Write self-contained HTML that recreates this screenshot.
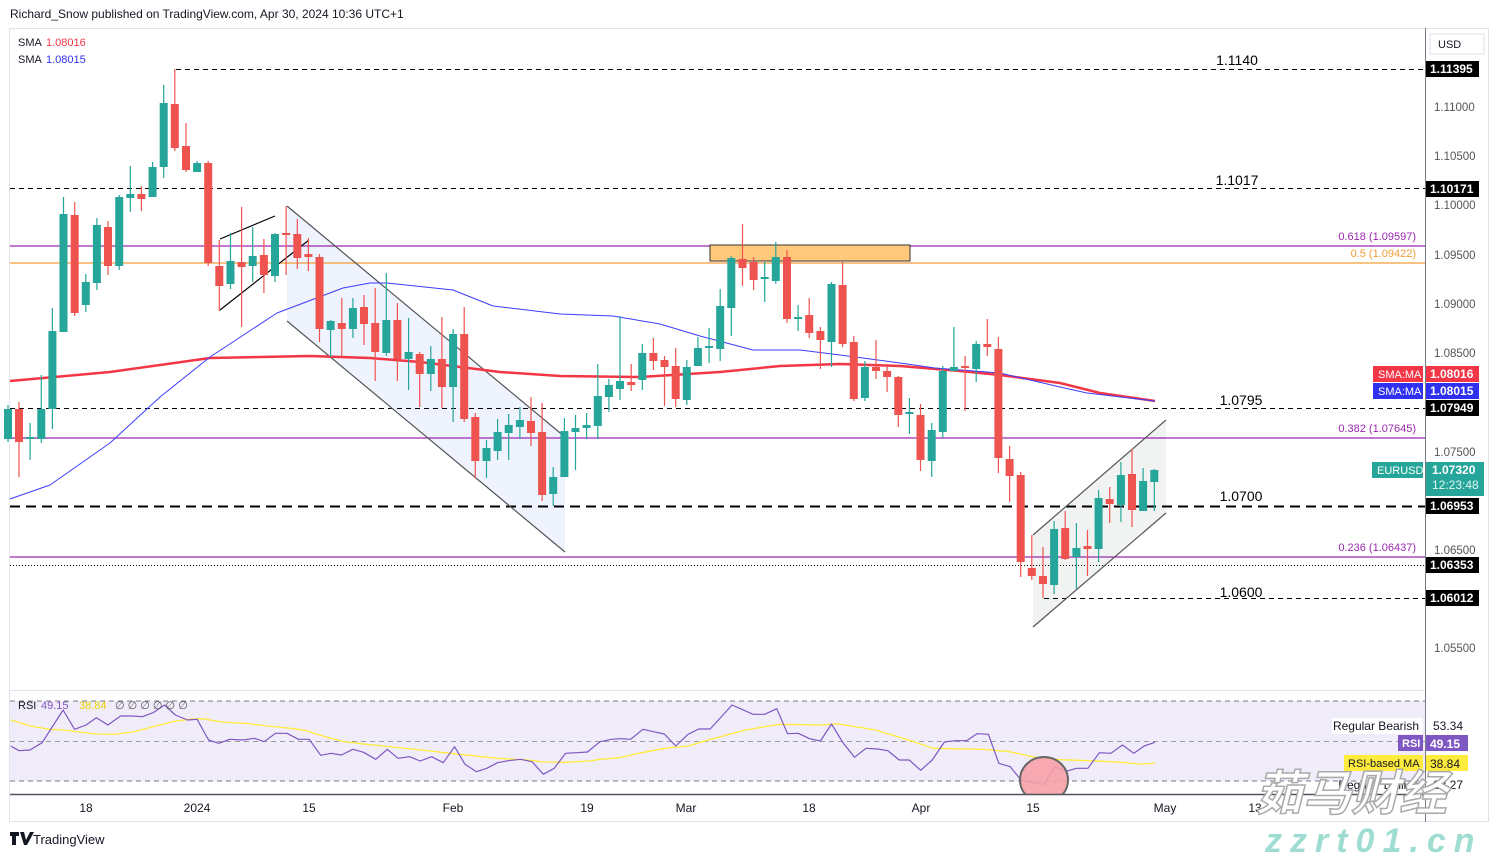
<!DOCTYPE html>
<html><head><meta charset="utf-8"><style>
html,body{margin:0;padding:0;background:#fff;width:1499px;height:857px;overflow:hidden}
svg{display:block;font-family:"Liberation Sans",sans-serif}
</style></head><body>
<svg id="s" width="1499" height="857" xmlns="http://www.w3.org/2000/svg">
<rect x="0" y="0" width="1499" height="857" fill="#fff"/>
<rect x="9.5" y="28.5" width="1479" height="793" fill="#fff" stroke="#e0e3eb"/>
<text x="10" y="18" font-size="12" fill="#131722">Richard_Snow published on TradingView.com, Apr 30, 2024 10:36 UTC+1</text>
<g id="g"></g>
</svg>
<script>
var g=document.getElementById('g'),h='';
function L(x1,y1,x2,y2,c,w,d){h+='<line x1="'+x1+'" y1="'+y1+'" x2="'+x2+'" y2="'+y2+'" stroke="'+c+'" stroke-width="'+(w||1)+'"'+(d?' stroke-dasharray="'+d+'"':'')+'/>';}
function T(x,y,t,c,s,a,wt){h+='<text x="'+x+'" y="'+y+'" font-size="'+(s||12)+'" fill="'+c+'"'+(a?' text-anchor="'+a+'"':'')+(wt?' font-weight="bold"':'')+'>'+t+'</text>';}
function R(x,y,w,hh,c,st){h+='<rect x="'+x+'" y="'+y+'" width="'+w+'" height="'+hh+'" fill="'+c+'"'+(st?' stroke="'+st+'"':'')+'/>';}
function P(pts,c,w,f){h+='<polyline points="'+pts.map(function(p){return p.join(',')}).join(' ')+'" fill="'+(f||'none')+'" stroke="'+c+'" stroke-width="'+(w||1)+'" stroke-linejoin="round"/>';}
// shapes
h+='<polygon points="287,206 565,437 565,552 287,321" fill="#eef3fd"/>';
h+='<polygon points="1033,535 1166,420 1166,513 1033,627" fill="#f1f2f2"/>';
// horizontal levels
L(176,69.5,1425,69.5,'#000',1,'5,4');
L(10,188.5,1425,188.5,'#000',1,'5,4');
L(10,246,1425,246,'#9c27b0',1.3);
L(10,263,1425,263,'#f29d38',1.3);
L(10,408.5,1425,408.5,'#000',1,'5,4');
L(10,438,1425,438,'#9c27b0',1.3);
L(10,506.5,1425,506.5,'#000',2,'10,6');
L(10,557,1425,557,'#9c27b0',1.3);
L(10,565.5,1425,565.5,'#000',1,'1,2');
L(1044,598.5,1425,598.5,'#000',1,'5,4');
R(710,245,200,16,'#ffc87a','#333');
// labels
T(1237,65,'1.1140','#000',14,'middle');T(1237,185,'1.1017','#000',14,'middle');
T(1241,405,'1.0795','#000',14,'middle');T(1241,501,'1.0700','#000',14,'middle');
T(1241,597,'1.0600','#000',14,'middle');
T(1416,240,'0.618 (1.09597)','#9c27b0',11,'end');T(1416,257,'0.5 (1.09422)','#f29d38',11,'end');
T(1416,432,'0.382 (1.07645)','#9c27b0',11,'end');T(1416,551,'0.236 (1.06437)','#9c27b0',11,'end');
// channel lines
L(287,206,565,437,'#555',1.2);L(287,321,565,552,'#555',1.2);
L(1033,535,1166,420,'#555',1.2);L(1033,627,1166,513,'#555',1.2);
L(220,239,275,216,'#000',1.2);L(220,310,309,240,'#000',1.2);
// SMAs
P([[10,381],[110,372],[210,358],[310,356],[370,358],[420,362],[500,372],[560,376],[640,377],[720,372],[780,366],[840,364],[900,366],[960,371],[1000,375],[1060,383],[1100,393],[1155,401]],'#f23645',2.5);
P([[10,499],[50,485],[110,443],[160,397],[210,357],[277,313],[343,288],[370,283],[387,283],[453,290],[493,306],[560,314],[613,316],[660,324],[700,336],[753,350],[800,350],[840,355],[900,363],[935,368],[1000,373],[1060,387],[1087,393],[1155,401]],'#3c3cff',1);
// candles
var C=[[439,409,405,442],[409,442,402,477],[439,438,423,460],[439,409,375,443],[409,331,308,429],[332,214,197,332],[215,313,202,316],[305,282,274,312],[283,225,218,290],[227,266,221,275],[266,197,195,270],[198,194,166,212],[194,199,186,211],[197,167,162,197],[167,103,85,178],[104,148,69,151],[146,170,123,172],[172,163,161,172],[163,263,161,266],[266,286,240,311],[284,261,233,289],[262,267,207,327],[266,256,227,282],[255,275,239,293],[276,234,233,282],[234,235,206,275],[234,258,219,269],[254,257,238,271],[257,329,254,342],[330,321,320,357],[323,329,298,357],[329,308,298,338],[307,324,295,345],
[323,352,288,381],[353,320,273,356],[320,359,303,381],[359,352,318,390],[354,374,352,407],[374,359,346,391],[359,387,317,408],[387,334,329,422],[334,419,307,422],[417,461,413,478],[461,448,440,478],[451,432,419,460],[433,425,414,460],[427,420,407,439],[421,433,397,446],[432,495,403,501],[494,477,467,506],[477,431,418,477],[432,428,415,470],[428,425,413,439],[426,396,364,439],[397,385,379,412],[389,381,316,400],[382,385,364,391],[380,353,344,390],[353,361,338,370],[360,367,356,406],[366,399,348,407],[400,367,360,405],[366,348,337,366],[348,347,328,363],
[349,306,289,361],[308,258,256,336],[259,268,224,286],[262,280,257,290],[279,278,262,302],[281,257,242,284],[257,319,250,323],[319,317,305,331],[315,333,298,338],[331,340,327,369],[342,284,282,367],[285,344,262,347],[342,399,336,401],[398,367,361,401],[367,371,340,379],[371,377,364,392],[377,415,376,427],[414,413,398,434],[415,460,404,471],[461,430,423,477],[432,371,366,438],[371,367,327,371],[367,368,356,411],[369,344,341,382],[344,347,319,356],[349,458,337,473],[459,476,446,502],[475,562,472,577],[568,576,535,580],[576,584,547,598],[585,529,521,594],[528,559,511,560],[557,548,523,589],[546,549,530,576],[549,498,490,562],[499,504,487,523],[505,475,462,522],[474,510,449,527],[511,481,468,511],[482,470,469,511]];
for(var i=0;i<C.length;i++){var c=C[i],x=(i==0?8:19+11.13*(i-1)),up=c[1]<=c[0],col=up?'#26a69a':'#ef5350';
L(x.toFixed(1),c[2],x.toFixed(1),c[3],col,1.2);var t=Math.min(c[0],c[1]),b=Math.max(c[0],c[1]);if(b-t<2){t-=1;b=t+2}R((x-4).toFixed(1),t,8,b-t,col);}
// price axis
L(1425.5,28,1425.5,822,'#787b86',1);
[[107,'1.11000'],[156,'1.10500'],[205,'1.10000'],[255,'1.09500'],[304,'1.09000'],[353,'1.08500'],[452,'1.07500'],[550,'1.06500'],[648,'1.05500']].forEach(function(a){T(1434,a[0]+4,a[1],'#555',11.5)});
R(1430,34,54,20,'#fff','#e0e3eb');T(1438,48,'USD','#131722',11);
function tag(y,t,bg){R(1426,y-8,53,16,bg);T(1430,y+4,t,'#fff',12,null,1)}
tag(69,'1.11395','#000');tag(189,'1.10171','#000');tag(374,'1.08016','#f23645');tag(391,'1.08015','#3030f0');tag(408,'1.07949','#000');tag(506,'1.06953','#000');tag(565,'1.06353','#000');tag(598,'1.06012','#000');
R(1373,366,50,16,'#f23645');T(1378,378,'SMA:MA','#fff',11);R(1373,383,50,16,'#3030f0');T(1378,395,'SMA:MA','#fff',11);
R(1372,462,51,16,'#26a69a');T(1377,474,'EURUSD','#fff',11);R(1426,462,58,34,'#26a69a');T(1432,474,'1.07320','#fff',12,null,1);T(1432,489,'12:23:48','#e0f5f2',12);
// legends
T(18,46,'SMA','#131722',11);T(46,46,'1.08016','#f23645',11);T(18,63,'SMA','#131722',11);T(46,63,'1.08015','#3030f0',11);
// RSI pane
L(10,690.5,1425,690.5,'#e0e3eb',1);
R(10,701,1415,80,'#f1ecf9');
L(10,701,1425,701,'#787b86',1,'5,4');L(10,741.5,1425,741.5,'#9a9aa2',1,'5,4');L(10,781,1425,781,'#787b86',1,'5,4');
var ky=function(a,ox){return a.map(function(p){return[(ox+p[0]/2.613).toFixed(1),(690+p[1]/3).toFixed(1)]})};
P(ky([[28,90],[80,108],[130,118],[165,120],[250,132],[300,133],[350,125],[400,110],[450,95],[500,87],[530,86],[580,96],[640,100],[700,108],[760,115],[800,122],[850,140],[900,155],[950,162],[1000,168],[1100,180],[1200,193],[1300,205],[1380,210],[1420,216],[1480,217],[1540,213],[1568,208]],0).concat(ky([[50,203],[100,190],[170,175],[230,168],[300,145],[380,120],[470,103],[580,105],[620,101],[720,120],[800,148],[870,175],[1000,178],[1070,185],[1150,205],[1200,209],[1280,212],[1360,217],[1410,222],[1450,220]],600)),'#ffeb3b',1.3);
P(ky([[28,168],[50,182],[78,180],[110,158],[165,60],[195,118],[225,105],[252,83],[282,105],[315,78],[345,78],[372,80],[400,68],[430,45],[458,75],[490,90],[515,88],[545,150],[572,160],[600,148],[635,150],[665,145],[690,155],[720,130],[750,130],[780,148],[808,148],[838,196],[865,190],[892,195],[922,178],[950,187],[982,208],[1012,178],[1040,205],[1070,200],[1098,213],[1128,200],[1158,218],[1188,170],[1215,223],[1245,245],[1272,235],[1300,218],[1328,212],[1360,208],[1390,215],[1420,253],[1448,235],[1478,190],[1508,188],[1535,186],[1568,155]],0).concat(ky([[30,148],[55,146],[80,148],[112,118],[140,125],[168,132],[198,168],[230,133],[258,117],[288,117],[345,45],[400,73],[430,73],[462,56],[490,131],[518,130],[548,146],[576,153],[605,102],[635,158],[665,202],[695,175],[725,177],[752,182],[782,210],[808,210],[838,241],[868,210],[900,156],[928,152],[958,152],[985,131],[1015,133],[1042,220],[1072,230],[1100,270],[1130,278],[1160,283],[1188,230],[1218,244],[1245,235],[1275,235],[1305,188],[1335,190],[1365,165],[1395,190],[1422,168],[1450,157]],600)),'#7e57c2',1.2);
h+='<clipPath id="cp"><rect x="10" y="690" width="1415" height="104"/></clipPath><ellipse cx="1044" cy="780" rx="24" ry="23" fill="#f7a1a8" fill-opacity="0.9" stroke="#666" stroke-width="2" clip-path="url(#cp)"/>';
L(10,794.5,1425,794.5,'#50535e',1.5);
T(18,709,'RSI','#131722',11);T(41,709,'49.15','#7e57c2',11);T(79,709,'38.84','#e6d200',11);T(115,709,'∅ ∅ ∅ ∅ ∅ ∅','#555',11);
R(1332,718,91,16,'#fff');T(1419,730,'Regular Bearish','#131722',12,'end');T(1433,730,'53.34','#131722',12);
R(1398,735,25,16,'#7e57c2');T(1402,747,'RSI','#fff',11,null,1);R(1426,735,42,16,'#7e57c2');T(1430,748,'49.15','#fff',12,null,1);
R(1344,755,79,16,'#ffeb3b');T(1348,767,'RSI-based MA','#131722',11);R(1426,755,42,16,'#ffeb3b');T(1430,768,'38.84','#131722',12);
T(1419,789,'Regular Bullish','#131722',12,'end');T(1433,789,'28.27','#131722',12);
// date axis
[[86,'18'],[197,'2024'],[309,'15'],[453,'Feb'],[587,'19'],[686,'Mar'],[809,'18'],[921,'Apr'],[1033,'15'],[1165,'May'],[1255,'13']].forEach(function(a){T(a[0],812,a[1],'#131722',12,'middle')});
// footer
h+='<path d="M10 832h9v4h-3v9h-4v-9h-2z M20 832l4 0 2 8 4-8h4l-7 13h-3z" fill="#131722"/>';
T(33,844,'TradingView','#131722',13);
// watermark
h+='<text x="1255" y="810" font-size="48" font-weight="bold" font-style="italic" fill="#fff" stroke="#aaa" stroke-width="1.5" font-family="Noto Sans CJK SC,sans-serif">茹马财经</text>';
h+='<text x="1265" y="852" font-size="34" font-weight="bold" font-style="italic" fill="#9fdcd2" letter-spacing="8">zzrt01.cn</text>';
g.innerHTML=h;
</script>
</body></html>
